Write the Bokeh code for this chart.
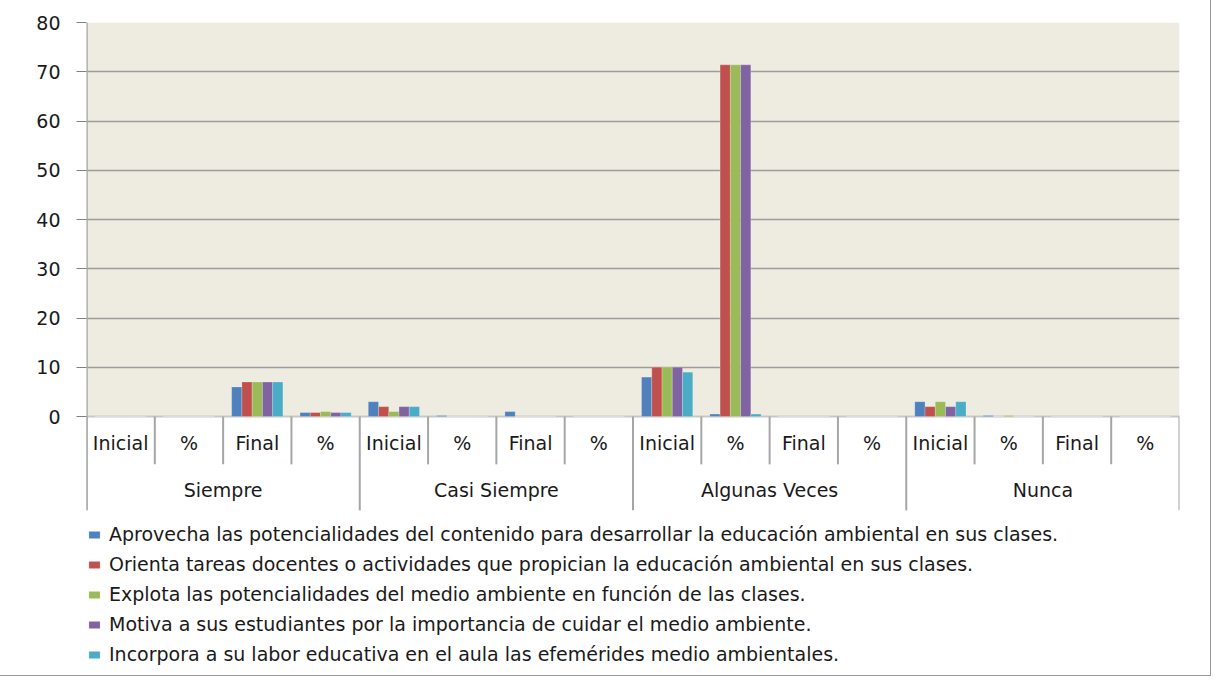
from bokeh.plotting import figure
from bokeh.models import Range1d, FixedTicker, Legend, LegendItem, BoxAnnotation
from bokeh.core.properties import value
from bokeh.embed import file_html
from bokeh.resources import INLINE

# ---------------- data ----------------
groups = ["Siempre", "Casi Siempre", "Algunas Veces", "Nunca"]
subcats = ["Inicial", "%", "Final", "%"]
series_names = [
    "Aprovecha las potencialidades del contenido para desarrollar la educación ambiental en sus clases.",
    "Orienta tareas docentes o actividades que propician la educación ambiental en sus clases.",
    "Explota las potencialidades del medio ambiente en función de las clases.",
    "Motiva a sus estudiantes por la importancia de cuidar el medio ambiente.",
    "Incorpora a su labor educativa en el aula las efemérides medio ambientales.",
]
aprovecha = [0, 0, 6, 0.8, 3, 0.2, 1, 0, 8, 0.5, 0, 0, 3, 0.2, 0, 0]
orienta = [0, 0, 7, 0.8, 2, 0, 0, 0, 10, 71.4, 0, 0, 2, 0, 0, 0]
explota = [0, 0, 7, 1.0, 1, 0, 0, 0, 10, 71.4, 0, 0, 3, 0.2, 0, 0]
motiva = [0, 0, 7, 0.8, 2, 0, 0, 0, 10, 71.4, 0, 0, 2, 0, 0, 0]
incorpora = [0, 0, 7, 0.8, 2, 0, 0, 0, 9, 0.5, 0, 0, 3, 0, 0, 0]
y_ticks = [0, 10, 20, 30, 40, 50, 60, 70, 80]

series = [aprovecha, orienta, explota, motiva, incorpora]
colors = ["#4F81BD", "#C0504D", "#9BBB59", "#8064A2", "#4BACC6"]

FONT_NAME = "DejaVu Sans"
FONT = value(FONT_NAME)
TXT = "#1a1a1a"
SEP = "#a6a6a6"

# ---------------- layout constants (pixels inside the figure) ----------------
W, H = 1210, 675
frame_left, frame_right = 86, 1179
frame_top, zero_px = 22.5, 416.2
sub_bottom_px, grp_bottom_px = 464, 510
sub_label_px, grp_label_px = 442.5, 489.4

n_sub = len(subcats)
n_cat = len(groups) * n_sub
ppu = (zero_px - frame_top) / 80.0
y_end = 80
y_start = 80 - (H - frame_top) / ppu
to_y = lambda px: -(px - zero_px) / ppu

p = figure(width=W, height=H, output_backend="svg", toolbar_location=None,
           x_range=Range1d(0, n_cat), y_range=Range1d(y_start, y_end),
           x_axis_location=None, tools="")
p.min_border_left = frame_left
p.min_border_right = W - frame_right
p.min_border_top = int(round(frame_top))
p.min_border_bottom = 0
p.outline_line_color = None
p.background_fill_color = "white"
p.border_fill_color = "white"
p.styles = {"outline": "1px solid #9a9a9a"}

# plot area background
p.add_layout(BoxAnnotation(bottom=0, top=80, fill_color="#EEECE1", fill_alpha=1,
                           line_color=None, level="image"))

# y axis
ax = p.yaxis[0]
ax.ticker = FixedTicker(ticks=y_ticks)
ax.axis_line_color = None
ax.major_tick_line_color = "#808080"
ax.major_tick_out = 10
ax.major_tick_in = 0
ax.minor_tick_line_color = None
ax.major_label_standoff = 16
ax.major_label_text_font = FONT_NAME
ax.major_label_text_font_size = "19px"
ax.major_label_text_color = TXT

p.ygrid.ticker = FixedTicker(ticks=y_ticks[1:])
p.ygrid.grid_line_color = "#9c9c9c"
p.ygrid.grid_line_width = 1.5
p.xgrid.visible = False

# baseline at 0
p.segment(x0=[0], y0=[0], x1=[n_cat], y1=[0], line_color="#c8c8c8", line_width=2)

# bars
bw = 0.15
items = []
for j, (vals, col, name) in enumerate(zip(series, colors, series_names)):
    xs = [i + 0.5 + (j - 2) * bw for i in range(n_cat)]
    r = p.vbar(x=xs, top=vals, bottom=0, width=bw, fill_color=col,
               line_color="white", line_alpha=0.35, line_width=0.6)
    items.append(LegendItem(label=name, renderers=[r]))

# category table separators
sub_x = [i for i in range(n_cat + 1) if i % n_sub != 0]
grp_x = [i for i in range(n_cat + 1) if i % n_sub == 0]
p.segment(x0=sub_x, y0=[0] * len(sub_x), x1=sub_x, y1=[to_y(sub_bottom_px)] * len(sub_x),
          line_color=SEP, line_width=2)
p.segment(x0=grp_x, y0=[0] * len(grp_x), x1=grp_x, y1=[to_y(grp_bottom_px)] * len(grp_x),
          line_color=SEP, line_width=2)
# y-axis line (extends through the table)
p.segment(x0=[0], y0=[y_end], x1=[0], y1=[to_y(grp_bottom_px)], line_color=SEP, line_width=2.5)

# category labels
sub_labels = [subcats[i % n_sub] for i in range(n_cat)]
p.text(x=[i + 0.5 for i in range(n_cat)], y=[to_y(sub_label_px)] * n_cat, text=sub_labels,
       text_align="center", text_baseline="middle", text_font=FONT,
       text_font_size="19px", text_color=TXT)
p.text(x=[g * n_sub + n_sub / 2 for g in range(len(groups))],
       y=[to_y(grp_label_px)] * len(groups),
       text=groups, text_align="center", text_baseline="middle", text_font=FONT,
       text_font_size="19px", text_color=TXT)

legend = Legend(items=items, location=(1, 10), orientation="vertical",
                border_line_color=None, background_fill_alpha=0,
                padding=0, margin=0, spacing=8, label_height=20,
                glyph_height=9, glyph_width=14, label_standoff=8,
                label_text_font=FONT_NAME, label_text_font_size="19px",
                label_text_color=TXT)
p.add_layout(legend, "center")

open("out.html", "w").write(file_html(p, INLINE))
